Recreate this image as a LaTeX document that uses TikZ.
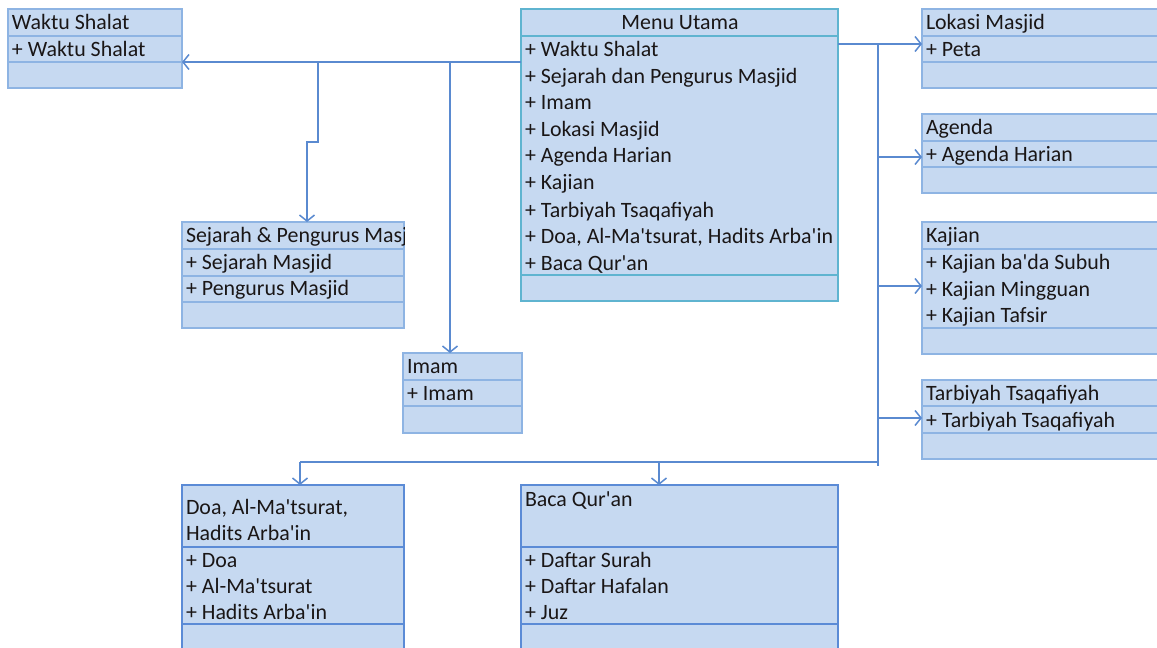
\documentclass[tikz,border=0pt]{standalone}
\usepackage{fontspec}
\setmainfont{Carlito}[Ligatures=TeXOff]
\usetikzlibrary{arrows.meta,calc}
\definecolor{boxfill}{HTML}{C6D9F1}
\definecolor{boxline}{HTML}{8EB4E3}
\definecolor{mainline}{HTML}{5FB4D0}
\definecolor{darkline}{HTML}{5B8BD6}
\definecolor{conn}{HTML}{5A8AD0}
\definecolor{txt}{HTML}{1A1616}
\begin{document}
\begin{tikzpicture}[x=1pt,y=-1pt,
  box/.style args={#1x#2}{draw=boxline,fill=boxfill,line width=1.8pt,anchor=north west,inner sep=0,outer sep=0,minimum width=#1pt,minimum height=#2pt},
  mainbox/.style={draw=mainline},
  darkbox/.style={draw=darkline},
  sepl/.style={draw=boxline,line width=1.8pt},
  msepl/.style={draw=mainline,line width=1.8pt},
  dsepl/.style={draw=darkline,line width=1.8pt},
  lbl/.style={anchor=base west,inner sep=0,outer sep=0,text=txt,font=\fontsize{21.9}{26}\selectfont},
  clbl/.style={anchor=base,inner sep=0,outer sep=0,text=txt,font=\fontsize{21.9}{26}\selectfont},
  conline/.style={draw=conn,line width=1.5pt},
  arr/.style={conline,-{Straight Barb[length=6pt,width=15pt,line width=1.5pt]}}
]
\useasboundingbox (0,0) rectangle (1157,648);
\clip (0,0) rectangle (1157,648);

% ---------- Waktu Shalat ----------
\node[box=174x79] (ws) at (8,9) {};
\draw[sepl] (ws.west |- 0,36) -- (ws.east |- 0,36);
\draw[sepl] (ws.west |- 0,62) -- (ws.east |- 0,62);
\node[lbl] (ws-h) at (12,29.5) {Waktu Shalat};
\node[lbl] (ws-1) at (12,56) {+ Waktu Shalat};

% ---------- Sejarah & Pengurus ----------
\node[box=222x106] (sj) at (182,222) {};
\draw[sepl] (sj.west |- 0,249) -- (sj.east |- 0,249);
\draw[sepl] (sj.west |- 0,276) -- (sj.east |- 0,276);
\draw[sepl] (sj.west |- 0,302) -- (sj.east |- 0,302);
\begin{scope}
  \clip (sj.north west) rectangle (sj.south east);
  \node[lbl] (sj-h) at (186,242.5) {Sejarah \& Pengurus Masjid};
\end{scope}
\node[lbl] (sj-1) at (186,269) {+ Sejarah Masjid};
\node[lbl] (sj-2) at (186,295.5) {+ Pengurus Masjid};

% ---------- Imam ----------
\node[box=119x80] (im) at (403,353) {};
\draw[sepl] (im.west |- 0,380) -- (im.east |- 0,380);
\draw[sepl] (im.west |- 0,406) -- (im.east |- 0,406);
\node[lbl] (im-h) at (407,373.5) {Imam};
\node[lbl] (im-1) at (407,400) {+ Imam};

% ---------- Menu Utama ----------
\node[box=317x292,mainbox] (mu) at (521,9) {};
\draw[msepl] (mu.west |- 0,36) -- (mu.east |- 0,36);
\draw[msepl] (mu.west |- 0,275) -- (mu.east |- 0,275);
\node[clbl] (mu-h) at (680,29.5) {Menu Utama};
\node[lbl] (mu-1) at (525,56.5) {+ Waktu Shalat};
\node[lbl] (mu-2) at (525,83) {+ Sejarah dan Pengurus Masjid};
\node[lbl] (mu-3) at (525,109.5) {+ Imam};
\node[lbl] (mu-4) at (525,136) {+ Lokasi Masjid};
\node[lbl] (mu-5) at (525,162.5) {+ Agenda Harian};
\node[lbl] (mu-6) at (525,189) {+ Kajian};
\node[lbl] (mu-7) at (525,217.5) {+ Tarbiyah Tsaqafiyah};
\node[lbl] (mu-8) at (525,243.5) {+ Doa, Al-Ma'tsurat, Hadits Arba'in};
\node[lbl] (mu-9) at (525,270) {+ Baca Qur'an};

% ---------- Lokasi Masjid ----------
\node[box=240x79] (lk) at (922,9) {};
\draw[sepl] (lk.west |- 0,36) -- (lk.east |- 0,36);
\draw[sepl] (lk.west |- 0,62) -- (lk.east |- 0,62);
\node[lbl] (lk-h) at (926,29.5) {Lokasi Masjid};
\node[lbl] (lk-1) at (926,56) {+ Peta};

% ---------- Agenda ----------
\node[box=240x79] (ag) at (922,114) {};
\draw[sepl] (ag.west |- 0,141) -- (ag.east |- 0,141);
\draw[sepl] (ag.west |- 0,167) -- (ag.east |- 0,167);
\node[lbl] (ag-h) at (926,134.5) {Agenda};
\node[lbl] (ag-1) at (926,161) {+ Agenda Harian};

% ---------- Kajian ----------
\node[box=240x132] (kj) at (922,222) {};
\draw[sepl] (kj.west |- 0,249) -- (kj.east |- 0,249);
\draw[sepl] (kj.west |- 0,328) -- (kj.east |- 0,328);
\node[lbl] (kj-h) at (926,242.5) {Kajian};
\node[lbl] (kj-1) at (926,269.5) {+ Kajian ba'da Subuh};
\node[lbl] (kj-2) at (926,296) {+ Kajian Mingguan};
\node[lbl] (kj-3) at (926,322.5) {+ Kajian Tafsir};

% ---------- Tarbiyah ----------
\node[box=240x79] (tb) at (922,380) {};
\draw[sepl] (tb.west |- 0,406) -- (tb.east |- 0,406);
\draw[sepl] (tb.west |- 0,433) -- (tb.east |- 0,433);
\node[lbl] (tb-h) at (926,400.5) {Tarbiyah Tsaqafiyah};
\node[lbl] (tb-1) at (926,427) {+ Tarbiyah Tsaqafiyah};

% ---------- Doa ----------
\node[box=222x180,darkbox] (doa) at (182,485) {};
\draw[dsepl] (doa.west |- 0,547) -- (doa.east |- 0,547);
\draw[dsepl] (doa.west |- 0,624) -- (doa.east |- 0,624);
\node[lbl] (doa-h1) at (186,514) {Doa, Al-Ma'tsurat,};
\node[lbl] (doa-h2) at (186,540.5) {Hadits Arba'in};
\node[lbl] (doa-1) at (186,567) {+ Doa};
\node[lbl] (doa-2) at (186,593) {+ Al-Ma'tsurat};
\node[lbl] (doa-3) at (186,619) {+ Hadits Arba'in};

% ---------- Baca Qur'an ----------
\node[box=317x180,darkbox] (bq) at (521,485) {};
\draw[dsepl] (bq.west |- 0,547) -- (bq.east |- 0,547);
\draw[dsepl] (bq.west |- 0,624) -- (bq.east |- 0,624);
\node[lbl] (bq-h) at (525,506) {Baca Qur'an};
\node[lbl] (bq-1) at (525,567) {+ Daftar Surah};
\node[lbl] (bq-2) at (525,593) {+ Daftar Hafalan};
\node[lbl] (bq-3) at (525,619) {+ Juz};

% ---------- connectors ----------
\coordinate (jL1) at (450,62);
\coordinate (jL2) at (318,62);
\coordinate (jL3) at (318,142);
\coordinate (jL4) at (307,142);
\coordinate (jR) at (878,44);
\coordinate (jRb) at (878,466);
\coordinate (jB) at (878,462);
\coordinate (jB1) at (300,462);
\coordinate (jB2) at (659,462);

\draw[arr] (mu.west |- jL1) -- (ws.east |- jL1);
\draw[arr] (jL1) -- (jL1 |- im.north);
\draw[arr] (jL2) -- (jL3) -- (jL4) -- (jL4 |- sj.north);

\draw[arr] (mu.east |- jR) -- (lk.west |- jR);
\draw[conline] (jR) -- (jRb);
\draw[arr] (jR |- 0,157) -- (ag.west |- 0,157);
\draw[arr] (jR |- 0,286) -- (kj.west |- 0,286);
\draw[arr] (jR |- 0,418) -- (tb.west |- 0,418);
\draw[conline] (jB) -- (jB1);
\draw[arr] (jB1) -- (jB1 |- doa.north);
\draw[arr] (jB2) -- (jB2 |- bq.north);
\end{tikzpicture}
\end{document}
